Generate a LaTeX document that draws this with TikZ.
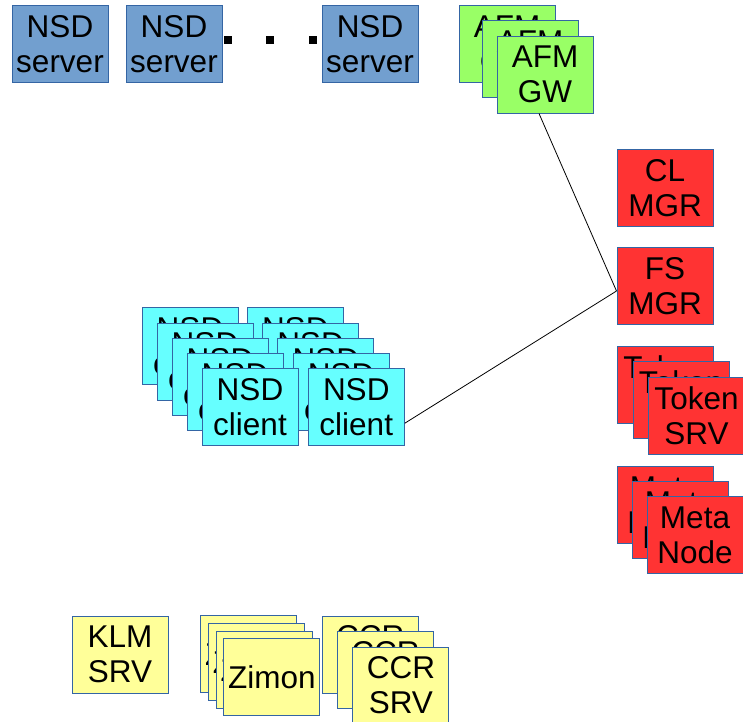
\documentclass[tikz,border=0pt]{standalone}
\usepackage{fontspec}
\setmainfont{Liberation Sans}
\definecolor{bord}{HTML}{3465A4}
\definecolor{bleu}{HTML}{729FCF}
\definecolor{vert}{HTML}{99FF66}
\definecolor{turquoise}{HTML}{66FFFF}
\definecolor{rouge}{HTML}{FF3333}
\definecolor{jaune}{HTML}{FFFF99}

\begin{document}
\begin{tikzpicture}[x=1pt,y=-1pt,
    boite/.style={rectangle,draw=bord,line width=1pt,minimum width=96pt,minimum height=77pt,
        inner sep=0pt,align=center,font=\fontsize{31.5pt}{35pt}\selectfont},
    point/.style={rectangle,fill=black,inner sep=0pt,minimum size=8pt}]
    \useasboundingbox (0,0) rectangle (743,721);

    % Serveurs NSD
    \node[boite,fill=bleu] (S1) at (60,44) {NSD\\server};
    \node[boite,fill=bleu] (S2) at (174,44) {NSD\\server};
    \foreach \x [count=\i] in {228,270,313} {
        \node[point] (P\i) at (\x,40) {};
    }
    \node[boite,fill=bleu] (S3) at (370,44) {NSD\\server};

    % Passerelles AFM
    \foreach \i/\x/\y in {1/507/44, 2/530/59, 3/545/74.5} {
        \node[boite,fill=vert] (A\i) at (\x,\y) {AFM\\GW};
    }

    % Gestionnaires
    \node[boite,fill=rouge] (CL) at (665,188) {CL\\MGR};
    \node[boite,fill=rouge] (FS) at (665,286) {FS\\MGR};
    \foreach \i in {1,2,3} {
        \node[boite,fill=rouge] (T\i) at (650+15.5*\i,369+15.5*\i) {Token\\SRV};
    }
    \foreach \i in {1,2,3} {
        \node[boite,fill=rouge] (M\i) at (650+15*\i,490+15*\i) {Meta\\Node};
    }

    % Clients NSD
    \foreach \i in {1,...,5} {
        \node[boite,fill=turquoise] (CG\i) at (175+15*\i,331+15.25*\i) {NSD\\client};
        \node[boite,fill=turquoise] (CD\i) at (280+15.25*\i,331+15.25*\i) {NSD\\client};
    }

    % Services du bas
    \node[boite,fill=jaune] (KLM) at (120,654.5) {KLM\\SRV};
    \foreach \i in {1,...,4} {
        \node[boite,fill=jaune] (Z\i) at (241.3+7.67*\i,646.8+7.67*\i) {Zimon};
    }
    \foreach \i in {1,2,3} {
        \node[boite,fill=jaune] (C\i) at (355+15.3*\i,639+15.5*\i) {CCR\\SRV};
    }

    % Liens vers FS MGR
    \coordinate (J) at ([yshift=-5pt]FS.west);
    \draw[line width=0.8pt] ([xshift=-6pt]A3.south) -- (J);
    \draw[line width=0.8pt] ([yshift=-16pt]CD5.east) -- (J);

\end{tikzpicture}
\end{document}
